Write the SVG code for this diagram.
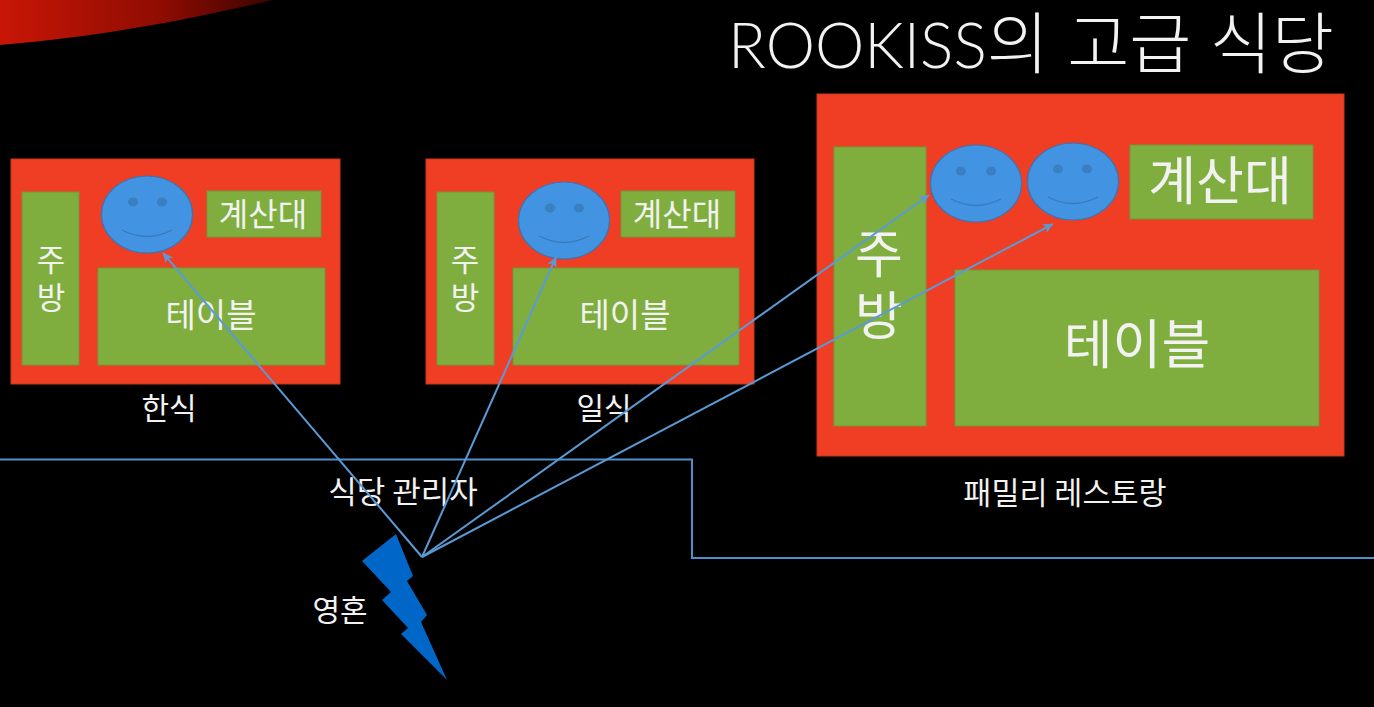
<svg xmlns="http://www.w3.org/2000/svg" width="1374" height="707" viewBox="0 0 1374 707">
<style>
text{font-family:"Noto Sans CJK KR","Noto Sans",sans-serif;fill:#f2f2f2;text-anchor:middle;font-weight:400}
.v{font-family:"Liberation Sans","Noto Sans CJK KR",sans-serif}
.r{fill:#ef3e23;stroke:#c8391f;stroke-width:1}
.g{fill:#7fae3e;stroke:#6f9a38;stroke-width:1}
.f{fill:#4294e3;stroke:#3a75b5;stroke-width:1.2}
.e{fill:#3a7fc0}
.m{fill:none;stroke:#3a78b8;stroke-width:1.3}
.c{fill:none;stroke:#5a9bd5;stroke-width:2}
</style>
<defs>
<linearGradient id="sw" x1="0" y1="0" x2="1" y2="0"><stop offset="0" stop-color="#c81606"/><stop offset="0.6" stop-color="#8e0c02"/><stop offset="1" stop-color="#3a0400"/></linearGradient>
<marker id="a" markerWidth="12" markerHeight="10" refX="10" refY="5" orient="auto" markerUnits="userSpaceOnUse"><path d="M0 0L10 5L0 10L3 5Z" fill="#5a9bd5"/></marker>
</defs>
<rect width="1374" height="707" fill="#000"/>
<path id="swoosh" d="M0 0H272C190 20 90 38 0 45Z" fill="url(#sw)"/>
<text id="title" x="1031" y="68" style="font-family:'Lato','Noto Sans CJK KR',sans-serif;font-weight:300"><tspan font-size="62.300">ROOKISS</tspan><tspan font-size="67.500">의 고급 식당</tspan></text>
<g id="hansik">
<rect class="r" x="11" y="159" width="329" height="225"/>
<rect class="g" x="22" y="192" width="57" height="173"/>
<rect class="g" x="207" y="191" width="114" height="46"/>
<rect class="g" x="98" y="268" width="227" height="97"/>
<text class="v" font-size="31"><tspan x="51" y="271">주</tspan><tspan x="51" y="309">방</tspan></text>
<text x="263" y="226" font-size="32">계산대</text>
<text x="211" y="327" font-size="33">테이블</text>
<text x="169" y="419" font-size="30">한식</text>
</g>
<g id="hansik-face">
<ellipse class="f" cx="147" cy="214.500" rx="45.500" ry="38.500"/>
<ellipse class="e" cx="133" cy="202" rx="5" ry="4.500"/><ellipse class="e" cx="162" cy="202" rx="5" ry="4.500"/>
<path class="m" d="M122 230Q147 243 172 230"/>
</g>
<g id="ilsik">
<rect class="r" x="426" y="159" width="328" height="225"/>
<rect class="g" x="437" y="192" width="57" height="173"/>
<rect class="g" x="621" y="191" width="114" height="46"/>
<rect class="g" x="513" y="268" width="226" height="97"/>
<text class="v" font-size="31"><tspan x="465" y="271">주</tspan><tspan x="465" y="309">방</tspan></text>
<text x="677" y="226" font-size="32">계산대</text>
<text x="625" y="327" font-size="33">테이블</text>
<text x="604" y="419" font-size="30">일식</text>
</g>
<g id="ilsik-face">
<ellipse class="f" cx="564" cy="220.500" rx="45.500" ry="38.500"/>
<ellipse class="e" cx="550" cy="208" rx="5" ry="4.500"/><ellipse class="e" cx="579" cy="208" rx="5" ry="4.500"/>
<path class="m" d="M539 236Q564 249 589 236"/>
</g>
<g id="family">
<rect class="r" x="817" y="94" width="527" height="362"/>
<rect class="g" x="834" y="147" width="92" height="279"/>
<rect class="g" x="1130" y="145" width="183" height="74"/>
<rect class="g" x="955" y="270" width="364" height="156"/>
<text class="v" font-size="52"><tspan x="879" y="273">주</tspan><tspan x="879" y="335">방</tspan></text>
<text x="1220" y="200" font-size="52">계산대</text>
<text x="1137" y="364" font-size="53">테이블</text>
<text x="1065" y="504" font-size="30.500">패밀리 레스토랑</text>
</g>
<g id="family-face-1">
<ellipse class="f" cx="976" cy="183.500" rx="45.500" ry="38.500"/>
<ellipse class="e" cx="961" cy="171" rx="5" ry="4.500"/><ellipse class="e" cx="991" cy="171" rx="5" ry="4.500"/>
<path class="m" d="M951 199Q976 212 1001 199"/>
</g>
<g id="family-face-2">
<ellipse class="f" cx="1073" cy="181.500" rx="45.500" ry="38.500"/>
<ellipse class="e" cx="1058" cy="169" rx="5" ry="4.500"/><ellipse class="e" cx="1087" cy="169" rx="5" ry="4.500"/>
<path class="m" d="M1048 197Q1073 210 1098 197"/>
</g>
<g id="boundary"><path d="M0 459.500H692V558H1374" fill="none" stroke="#4f8fcb" stroke-width="2"/></g>
<g id="manager"><text x="403" y="503" font-size="31">식당 관리자</text></g>
<g id="soul">
<path d="M396 534L413 576L407 581L427 615L421 622L447 680L401 634L408 628L382 600L391 592L362 561Z" fill="#0067c8"/>
<text x="340" y="621" font-size="30">영혼</text>
</g>
<g id="connectors">
<path class="c" marker-end="url(#a)" d="M422 557L163 253"/>
<path class="c" marker-end="url(#a)" d="M422 557L556 257"/>
<path class="c" marker-end="url(#a)" d="M422 557L929 195"/>
<path class="c" marker-end="url(#a)" d="M422 557L1053 224"/>
</g>
</svg>
